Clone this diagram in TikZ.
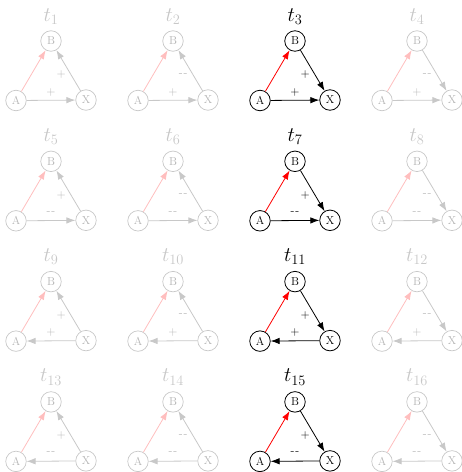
\documentclass[tikz,border=0pt]{standalone}
\usetikzlibrary{arrows.meta,calc}
\definecolor{fadegray}{RGB}{200,200,200}
\definecolor{fadetext}{RGB}{180,180,180}
\definecolor{fadered}{RGB}{255,190,190}
\tikzset{
  >={Latex[length=9pt,width=6.5pt]},
  base vtx/.style={circle, minimum size=20.5pt, inner sep=0pt, font=\fontsize{11.5}{13}\selectfont},
  active/.style={
    vtx/.style={base vtx, draw=black, line width=0.8pt, text=black},
    edg/.style={draw=black, line width=0.8pt, ->},
    redg/.style={draw=red, line width=0.8pt, ->},
    lbl/.style={text=black, font=\fontsize{12}{14}\selectfont, inner sep=0pt},
    ttl/.style={text=black, font=\fontsize{20}{24}\selectfont, anchor=base, inner sep=0pt}},
  faded/.style={
    vtx/.style={base vtx, draw=fadegray, line width=0.7pt, text=fadetext},
    edg/.style={draw=fadegray, line width=0.8pt, ->},
    redg/.style={draw=fadered, line width=0.8pt, ->},
    lbl/.style={text=fadetext, font=\fontsize{12}{14}\selectfont, inner sep=0pt},
    ttl/.style={text=fadegray, font=\fontsize{20}{24}\selectfont, anchor=base, inner sep=0pt}}
}
\newcommand{\mytriad}[3]{%
  \begin{scope}[shift={(51+122*#2,41+120.3*#3)}]
    \ifnum#2=2 \tikzset{active}\else\tikzset{faded}\fi
    \node[vtx] (B#1) at (0,0) {B};
    \node[vtx] (A#1) at (-35,59.5) {A};
    \node[vtx] (X#1) at (35,59) {X};
    \node[ttl] (T#1) at (0,-20) {$t_{#1}$};
    \draw[redg] (A#1) -- (B#1);
    \ifnum#3<2 \draw[edg] (A#1) -- (X#1);\else \draw[edg] (X#1) -- (A#1);\fi
    \ifnum#2<2 \draw[edg] (X#1) -- (B#1);\else \draw[edg] (B#1) -- (X#1);\fi
    \node[lbl] (SAX#1) at ($($(A#1)!0.5!(X#1)$)+(0,-8)$) {\ifodd#3 -\kern1pt-\else +\fi};
    \node[lbl] (SBX#1) at ($($(B#1)!0.5!(X#1)$)!8.5pt!-90:(X#1)$) {\ifodd#2 -\kern1pt-\else +\fi};
  \end{scope}%
}
\begin{document}
\begin{tikzpicture}[x=1pt,y=-1pt]
  \useasboundingbox (0,0) rectangle (462,472);
  \foreach \rr in {0,...,3}{
    \foreach \cc in {0,...,3}{
      \pgfmathtruncatemacro{\nn}{4*\rr+\cc+1}
      \mytriad{\nn}{\cc}{\rr}
    }
  }
\end{tikzpicture}
\end{document}
